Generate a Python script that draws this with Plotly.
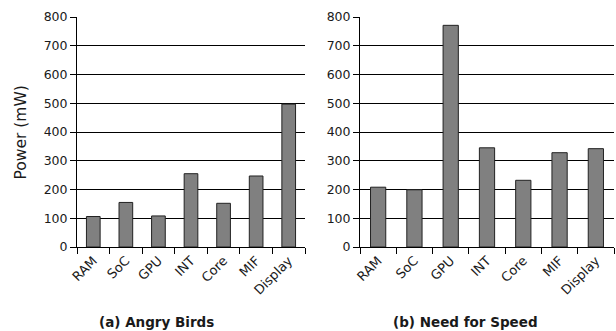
import plotly.graph_objects as go
from plotly.subplots import make_subplots

categories = ["RAM", "SoC", "GPU", "INT", "Core", "MIF", "Display"]
angry_birds = [106, 155, 108, 255, 152, 247, 497]
need_for_speed = [208, 199, 771, 345, 232, 328, 342]
y_ticks = [0, 100, 200, 300, 400, 500, 600, 700, 800]
titles = ["(a) Angry Birds", "(b) Need for Speed"]

W, H = 616, 331
fig = make_subplots(rows=1, cols=2)

for i, vals in enumerate([angry_birds, need_for_speed], start=1):
    fig.add_trace(go.Bar(x=categories, y=vals, width=0.42,
                         marker=dict(color="#808080", line=dict(color="#222222", width=1)),
                         showlegend=False), row=1, col=i)

yfont = dict(family="DejaVu Sans", size=12.5, color="#1a1a1a")
xfont = dict(family="DejaVu Sans", size=13, color="#1a1a1a")
ydom = [1 - 247 / H, 1 - 17 / H]
xdoms = [[77 / W, 305 / W], [360 / W, 614 / W]]
for i in (1, 2):
    sfx = "" if i == 1 else str(i)
    fig.layout["xaxis" + sfx].update(
        domain=xdoms[i - 1], type="category", tickson="boundaries",
        ticks="outside", ticklen=6, tickcolor="black", tickangle=-45,
        showline=True, linecolor="black", linewidth=1, showgrid=False,
        tickfont=xfont, automargin=False)
    fig.layout["yaxis" + sfx].update(
        domain=ydom, range=[0, 800], tickvals=y_ticks,
        ticks="outside", ticklen=6, tickcolor="black",
        showline=True, linecolor="black", linewidth=1,
        showgrid=True, gridcolor="black", gridwidth=1, zeroline=False,
        tickfont=yfont, automargin=False)

sub_font = dict(family="DejaVu Sans", size=13.5, color="#1a1a1a")
fig.add_annotation(text="<b>" + titles[0] + "</b>", x=156.5 / W, y=1 - 322 / H,
                   xanchor="center", yanchor="middle",
                   xref="paper", yref="paper", showarrow=False, font=sub_font)
fig.add_annotation(text="<b>" + titles[1] + "</b>", x=466 / W, y=1 - 322 / H,
                   xanchor="center", yanchor="middle",
                   xref="paper", yref="paper", showarrow=False, font=sub_font)
fig.add_annotation(text="Power (mW)", x=20 / W, y=1 - 132.5 / H, textangle=-90,
                   xanchor="center", yanchor="middle",
                   xref="paper", yref="paper", showarrow=False,
                   font=dict(family="DejaVu Sans", size=15.5, color="#1a1a1a"))

fig.update_layout(width=W, height=H, margin=dict(l=0, r=0, t=0, b=0),
                  plot_bgcolor="white", paper_bgcolor="white", bargap=0.58)
fig.write_html("out.html", config={"displayModeBar": False},
               post_script="document.body.style.margin='0';document.body.style.overflow='hidden';")
